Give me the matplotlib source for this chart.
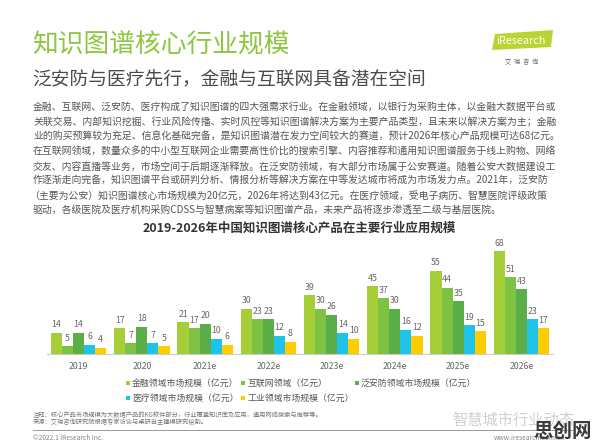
import numpy as np
import matplotlib
matplotlib.use("Agg")
import matplotlib.pyplot as plt
from matplotlib.patches import Rectangle, Polygon

plt.rcParams['font.family'] = ['Noto Sans CJK SC', 'DejaVu Sans']

W, H = 596, 446

# chart data (亿元)
years = ["2019", "2020", "2021e", "2022e", "2023e", "2024e", "2025e", "2026e"]
finance = [14, 17, 21, 30, 39, 45, 55, 68]
internet = [5, 7, 17, 23, 30, 37, 44, 51]
security = [14, 18, 20, 23, 26, 30, 35, 43]
medical = [6, 7, 10, 12, 14, 16, 19, 23]
industry = [4, 5, 6, 8, 10, 12, 15, 17]
series_names = ["金融领域市场规模（亿元）", "互联网领域（亿元）", "泛安防领域市场规模（亿元）",
                "医疗领域市场规模（亿元）", "工业领域市场规模（亿元）"]
colors = ["#A6CE39", "#7DC242", "#5BAE47", "#1EC3EA", "#FFCC00"]

title = "知识图谱核心行业规模"
subtitle = "泛安防与医疗先行，金融与互联网具备潜在空间"
paragraph = [
    "金融、互联网、泛安防、医疗构成了知识图谱的四大强需求行业。在金融领域，以银行为采购主体，以金融大数据平台或",
    "关联交易、内部知识挖掘、行业风险传播、实时风控等知识图谱解决方案为主要产品类型，且未来以解决方案为主；金融",
    "业的购买预算较为充足、信息化基础完备，是知识图谱潜在发力空间较大的赛道，预计2026年核心产品规模可达68亿元。",
    "在互联网领域，数量众多的中小型互联网企业需要高性价比的搜索引擎、内容推荐和通用知识图谱服务于线上购物、网络",
    "交友、内容直播等业务，市场空间于后期逐渐释放。在泛安防领域，有大部分市场属于公安赛道。随着公安大数据建设工",
    "作逐渐走向完备，知识图谱平台或研判分析、情报分析等解决方案在中等发达城市将成为市场发力点。2021年，泛安防",
    "（主要为公安）知识图谱核心市场规模为20亿元，2026年将达到43亿元。在医疗领域，受电子病历、智慧医院评级政策",
    "驱动，各级医院及医疗机构采购CDSS与智慧病案等知识图谱产品，未来产品将逐步渗透至二级与基层医院。",
]
chart_title = "2019-2026年中国知识图谱核心产品在主要行业应用规模"
notes = ["注释：核心产品市场规模为大数据产品的KG软件部分，行业覆盖知识库及应用，通用网络搜索与推荐等。",
         "来源：艾瑞咨询研究院根据专家访谈与桌研自主建模研究绘制。"]


def P(x, y):
    return x / W, 1 - y / H


fig = plt.figure(figsize=(W / 100, H / 100), dpi=100)
fig.patch.set_facecolor("white")

# header
fig.text(*P(32, 45), title, color="#8DC63F", fontsize=18.5, va="center", ha="left")
fig.text(*P(32, 80), subtitle, color="#4a4a4a", fontsize=13.5, va="center", ha="left")

# logo
fig.patches.append(Polygon([P(492, 50), P(495, 34), P(553, 30), P(551, 47)], closed=True,
                           transform=fig.transFigure, facecolor="#B9D534", edgecolor="none"))
fig.text(*P(496, 41), "iResearch", color="white", fontsize=7.8, va="center", ha="left")
fig.text(*P(522, 62), "艾  瑞  咨  询", color="#666666", fontsize=4.5, va="center", ha="center")

# paragraph
for k, line in enumerate(paragraph):
    xoff = 29 if line.startswith("（") else 33
    fig.text(*P(xoff, 108 + 14.6 * k), line, color="#555555", fontsize=7.1, va="center", ha="left")

fig.text(*P(299, 228), chart_title, color="#333333", fontsize=9, fontweight="bold",
         va="center", ha="center")

# bar chart
ax = fig.add_axes([47 / W, (H - 354) / H, 506 / W, (354 - 240) / H])
data = [finance, internet, security, medical, industry]
x = np.arange(len(years))
bw = 0.175
for j, (vals, c) in enumerate(zip(data, colors)):
    pos = x + (j - 2) * bw
    ax.bar(pos, vals, width=bw, color=c, edgecolor="none")
    for px_, v in zip(pos, vals):
        ax.annotate(str(v), (px_, v), xytext=(0, 2.5), textcoords="offset points",
                    ha="center", va="bottom", fontsize=6.3, color="#666666")
ax.set_xlim(-0.5, len(years) - 0.5)
ax.set_ylim(0, 75.5)
ax.set_yticks([])
ax.set_xticks(x)
ax.set_xticklabels(years, fontsize=6.3, color="#666666")
ax.tick_params(axis="x", length=0, pad=6)
for s in ["top", "left", "right"]:
    ax.spines[s].set_visible(False)
ax.spines["bottom"].set_color("#cccccc")
ax.spines["bottom"].set_linewidth(0.8)
ax.patch.set_alpha(0)

# legend
leg_pos = [(128, 383), (243, 383), (357, 383), (128, 398), (243, 398)]
for (lx, ly), name, c in zip(leg_pos, series_names, colors):
    fig.patches.append(Rectangle(P(lx - 2, ly + 2), 4 / W, 4 / H, transform=fig.transFigure,
                                 facecolor=c, edgecolor="none"))
    fig.text(*P(lx + 4, ly), name, color="#555555", fontsize=6.4, va="center", ha="left")

# notes & footer
fig.text(*P(33, 415), notes[0], color="#777777", fontsize=4.5, va="center", ha="left")
fig.text(*P(33, 422), notes[1], color="#777777", fontsize=4.5, va="center", ha="left")
fig.add_artist(plt.Line2D([33 / W, 572 / W], [1 - 430 / H, 1 - 430 / H],
                          transform=fig.transFigure, color="#999999", linewidth=0.7))
fig.text(*P(33, 438), "©2022.1 iResearch Inc.", color="#888888", fontsize=4.8, va="center", ha="left")
fig.text(*P(494, 438), "www.iresearch.com.cn", color="#888888", fontsize=4.8, va="center", ha="left")

# watermarks
fig.text(*P(452, 420), "智慧城市行业动态", color="#d0d0d0", fontsize=11, va="center", ha="left")
fig.text(*P(563, 431), "思创网", color="#3a3a3a", fontsize=14, fontweight="bold",
         va="center", ha="center")

fig.savefig("out.png", dpi=100)
